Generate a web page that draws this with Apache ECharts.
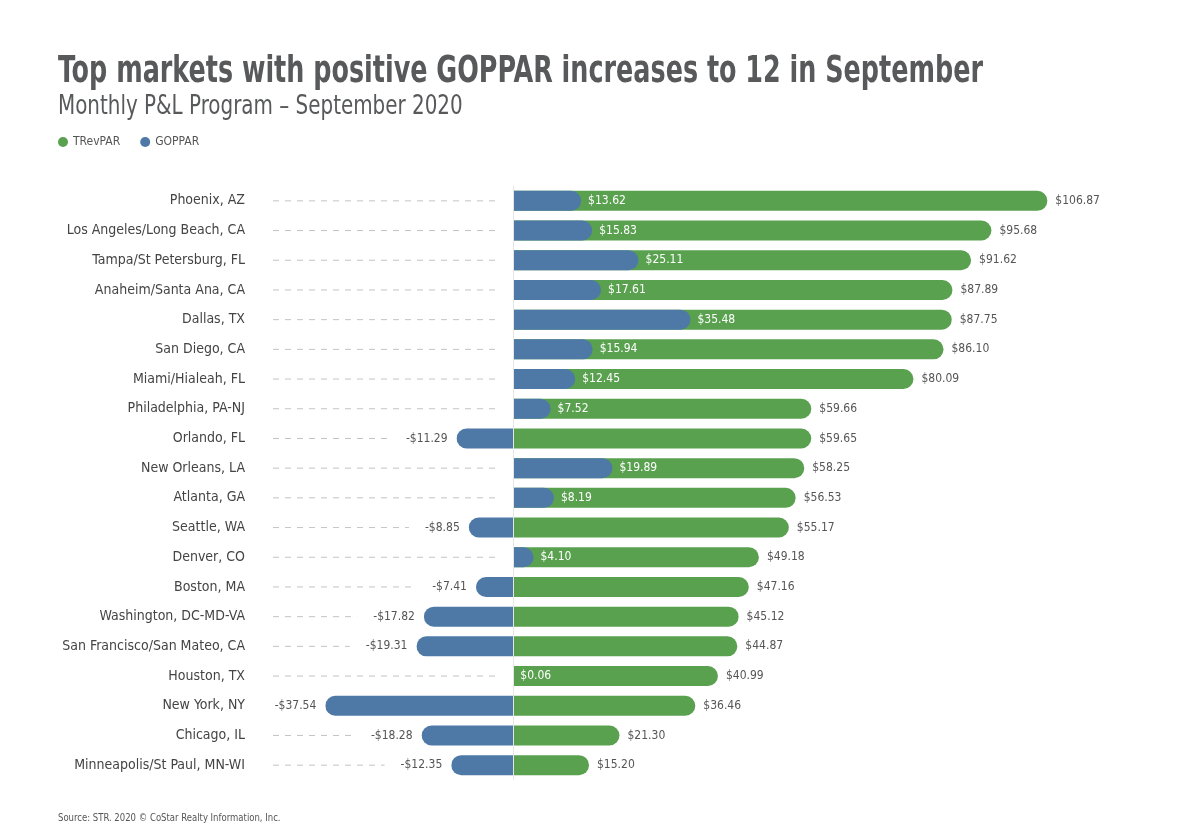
<!DOCTYPE html>
<html>
<head>
<meta charset="utf-8">
<script src="https://cdn.jsdelivr.net/npm/echarts@6/dist/echarts.min.js"></script>
<style>html,body{margin:0;padding:0;background:#fff;}#c{width:1200px;height:836px;}</style>
</head>
<body>
<div id="c"></div>
<script>
const categories = ["Phoenix, AZ","Los Angeles/Long Beach, CA","Tampa/St Petersburg, FL","Anaheim/Santa Ana, CA","Dallas, TX","San Diego, CA","Miami/Hialeah, FL","Philadelphia, PA-NJ","Orlando, FL","New Orleans, LA","Atlanta, GA","Seattle, WA","Denver, CO","Boston, MA","Washington, DC-MD-VA","San Francisco/San Mateo, CA","Houston, TX","New York, NY","Chicago, IL","Minneapolis/St Paul, MN-WI"];
const trevpar = [106.87,95.68,91.62,87.89,87.75,86.10,80.09,59.66,59.65,58.25,56.53,55.17,49.18,47.16,45.12,44.87,40.99,36.46,21.30,15.20];
const goppar = [13.62,15.83,25.11,17.61,35.48,15.94,12.45,7.52,-11.29,19.89,8.19,-8.85,4.10,-7.41,-17.82,-19.31,0.06,-37.54,-18.28,-12.35];

const FONT = '"DejaVu Sans Condensed","Liberation Sans Narrow",sans-serif';
const GREEN = '#59A14F', BLUE = '#4E79A7', TEXT = '#555', TITLE = '#58595b';
const X_MIN = -48, X_MAX = 120, DASH_TO = -3.6;

const fmt = v => (v < 0 ? '-$' : '$') + Math.abs(v).toFixed(2);

const chart = echarts.init(document.getElementById('c'), null, {renderer: 'canvas'});
chart.setOption({
  backgroundColor: '#fff',
  animation: false,
  textStyle: {fontFamily: FONT},
  graphic: [
    {type: 'text', x: 58, y: 53, scaleX: 0.744, silent: true,
     style: {text: 'Top markets with positive GOPPAR increases to 12 in September',
             font: 'bold 38px ' + FONT, fill: TITLE, verticalAlign: 'top'}},
    {type: 'text', x: 58, y: 93, scaleX: 0.82, silent: true,
     style: {text: 'Monthly P&L Program \u2013 September 2020',
             font: '27px ' + FONT, fill: TITLE, verticalAlign: 'top'}},
    {type: 'text', x: 58, y: 813, scaleX: 0.86, silent: true,
     style: {text: 'Source: STR. 2020 \u00a9 CoStar Realty Information, Inc.',
             font: '11px ' + FONT, fill: TEXT, verticalAlign: 'top'}}
  ],
  legend: {
    data: ['TRevPAR', 'GOPPAR'], left: 53, top: 131, icon: 'circle', itemWidth: 10, itemHeight: 10, itemGap: 20,
    textStyle: {fontFamily: FONT, fontSize: 12, color: TEXT}
  },
  grid: {left: 273, right: 1200 - 273 - (X_MAX - X_MIN) * 5, top: 186, height: 594, containLabel: false},
  xAxis: {type: 'value', min: X_MIN, max: X_MAX, show: false},
  yAxis: {
    type: 'category', data: categories, inverse: true,
    axisLine: {show: false}, axisTick: {show: false}, splitLine: {show: false},
    axisLabel: {margin: 28, fontFamily: FONT, fontSize: 14, color: '#444'}
  },
  series: [
    {
      type: 'custom', name: 'leader', z: 1, silent: true,
      data: categories.map((c, i) => [i]),
      renderItem: function (params, api) {
        const p1 = api.coord([X_MIN, params.dataIndex]);
        const p2 = api.coord([DASH_TO, params.dataIndex]);
        return {type: 'line', shape: {x1: p1[0], y1: p1[1], x2: p2[0], y2: p2[1]},
                style: {stroke: '#c4c4c4', lineWidth: 1, lineDash: [6, 6]}};
      },
      markLine: {
        silent: true, symbol: 'none', label: {show: false},
        lineStyle: {color: '#e6e6e6', type: 'solid', width: 1},
        data: [{xAxis: 0}]
      }
    },
    {
      type: 'bar', name: 'TRevPAR', z: 2, barWidth: 20, barGap: '-100%',
      itemStyle: {color: GREEN, borderRadius: [0, 10, 10, 0]},
      label: {show: true, position: 'right', distance: 8, formatter: p => fmt(p.value),
              fontFamily: FONT, fontSize: 12, color: TEXT},
      data: trevpar
    },
    {
      type: 'bar', name: 'GOPPAR', z: 3, barWidth: 20, barGap: '-100%',
      itemStyle: {color: BLUE},
      data: goppar.map(v => v >= 0 ? {
        value: v,
        itemStyle: {borderRadius: [0, 10, 10, 0]},
        label: {show: true, position: 'right', distance: 7, formatter: p => fmt(p.value),
                fontFamily: FONT, fontSize: 12, color: '#fff'}
      } : {
        value: v,
        itemStyle: {borderRadius: [10, 0, 0, 10]},
        label: {show: true, position: 'left', distance: 0, formatter: p => fmt(p.value),
                fontFamily: FONT, fontSize: 12, color: TEXT, backgroundColor: '#fff',
                padding: [3, 9, 3, 16]}
      })
    }
  ]
});
</script>
</body>
</html>
